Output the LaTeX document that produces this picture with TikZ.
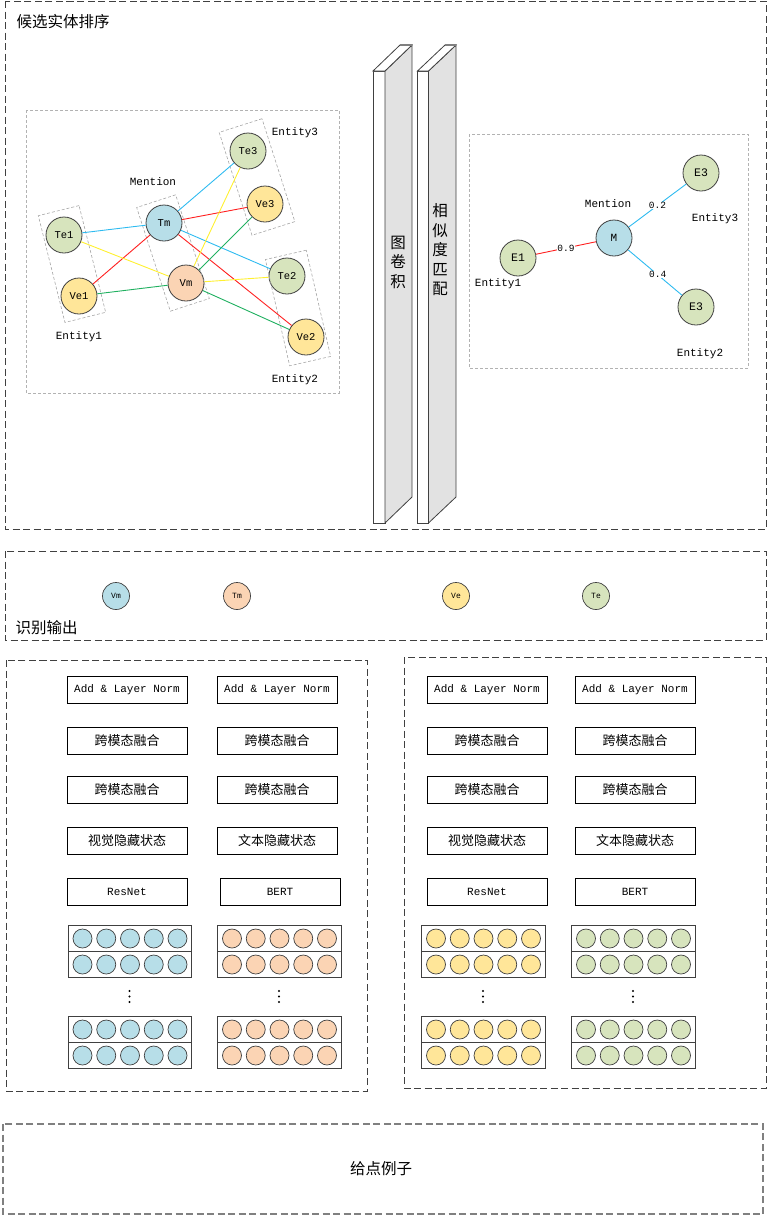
\documentclass[tikz,border=0pt]{standalone}
\usepackage{fontspec}
\setmainfont{Liberation Serif}
\setmonofont{Liberation Mono}
\newfontfamily\cjk{Noto Sans CJK SC}
\usetikzlibrary{calc}
\definecolor{cblue}{HTML}{B7DEE8}
\definecolor{cpeach}{HTML}{FBD4B4}
\definecolor{cyellow}{HTML}{FFE699}
\definecolor{cgreen}{HTML}{D7E4BD}
\definecolor{lblue}{HTML}{2EBBF0}
\definecolor{lred}{HTML}{FF2020}
\definecolor{lyellow}{HTML}{FFF030}
\definecolor{lgreen}{HTML}{20B060}
\definecolor{framegray}{HTML}{404040}
\definecolor{barside}{HTML}{E2E2E2}

\begin{document}
\begin{tikzpicture}[x=1pt, y=-1pt,
  every node/.style={font=\fontsize{11}{13}\selectfont\ttfamily},
  ent/.style={circle, draw=framegray, line width=0.8pt, minimum size=36pt, inner sep=0pt,
    font=\fontsize{10.5}{12}\selectfont\ttfamily},
  outdot/.style={circle, draw=framegray, line width=0.7pt, minimum size=27pt, inner sep=0pt,
    font=\fontsize{8}{9}\selectfont\ttfamily},
  cell/.style={circle, draw=framegray, line width=0.7pt, minimum size=19pt, inner sep=0pt},
  grp/.style={draw=gray!70, dash pattern=on 3pt off 2pt, line width=0.6pt, inner sep=0pt},
  frame/.style={draw=gray!60, dash pattern=on 3pt off 2pt, line width=0.6pt},
  section/.style={draw=framegray, dash pattern=on 7pt off 3.5pt, line width=0.9pt},
  ln/.style={line width=0.9pt},
  wlab/.style={fill=white, text=black, inner sep=0.5pt, font=\fontsize{9.5}{11}\selectfont\ttfamily},
  layer/.style={draw, line width=0.8pt, minimum width=120pt, minimum height=27pt, inner sep=0pt},
  cjklayer/.style={layer, font=\fontsize{13}{15}\selectfont\cjk},
  bar/.style={draw=framegray, line width=0.8pt},
  bartext/.style={align=center, font=\fontsize{15.5}{19.5}\selectfont\cjk},
  title/.style={font=\fontsize{15.5}{18}\selectfont\cjk},
  blk/.style={draw=framegray, line width=0.8pt}
]
\useasboundingbox (0,0) rectangle (767,1216);

% candidate ranking
\draw[section] (5,1) rectangle (766,529);
\node[title, anchor=west] (rank) at (13,22) {候选实体排序};

\draw[frame] (26,110) rectangle (339,393);
\node[ent, fill=cgreen] (te1) at (64,235) {Te1};
\node[ent, fill=cyellow] (ve1) at (79,296) {Ve1};
\node[ent, fill=cblue] (tm) at (164,223) {Tm};
\node[ent, fill=cpeach] (vm) at (186,283) {Vm};
\node[ent, fill=cgreen] (te3) at (248,151) {Te3};
\node[ent, fill=cyellow] (ve3) at (265,204) {Ve3};
\node[ent, fill=cgreen] (te2) at (287,276) {Te2};
\node[ent, fill=cyellow] (ve2) at (306,337) {Ve2};

\node[grp, rotate=14, minimum width=42pt, minimum height=110pt] (grp1) at (72,264) {};
\node[grp, rotate=18, minimum width=41pt, minimum height=109pt] (grpm) at (173,253) {};
\node[grp, rotate=17.7, minimum width=45pt, minimum height=108pt] (grp3) at (257,177) {};
\node[grp, rotate=12.9, minimum width=42pt, minimum height=109pt] (grp2) at (298,308) {};

\node (ent1) at (79,337) {Entity1};
\node (ment) at (153,182) {Mention};
\node (ent3) at (295,133) {Entity3};
\node (ent2) at (295,380) {Entity2};

\foreach \i in {1,2,3}{
  \draw[ln, lblue] (tm) -- (te\i);
  \draw[ln, lred] (tm) -- (ve\i);
  \draw[ln, lyellow] (vm) -- (te\i);
  \draw[ln, lgreen] (vm) -- (ve\i);
}

% bars
\draw[bar, fill=white] (373,71) rectangle (385,523);
\draw[bar, fill=barside] (385,71) -- (412,45) -- (412,497) -- (385,523) -- cycle;
\draw[bar, fill=white] (373,71) -- (400,45) -- (412,45) -- (385,71) -- cycle;
\draw[draw=gray, line width=1.4pt] (400,45) -- (412,45);
\node[bartext] (gcn) at (398,262) {图\\卷\\积};

\draw[bar, fill=white] (417.5,71) rectangle (428.5,523);
\draw[bar, fill=barside] (428.5,71) -- (456,45) -- (456,497) -- (428.5,523) -- cycle;
\draw[bar, fill=white] (417.5,71) -- (445,45) -- (456,45) -- (428.5,71) -- cycle;
\draw[draw=gray, line width=1.4pt] (445,45) -- (456,45);
\node[bartext] (simm) at (440,250) {相\\似\\度\\匹\\配};

\draw[frame] (469,134) rectangle (748,368);
\node[ent, fill=cblue, font=\fontsize{11}{13}\selectfont\ttfamily] (m) at (614,238) {M};
\node[ent, fill=cgreen, font=\fontsize{11.5}{13}\selectfont\ttfamily] (e1) at (518,258) {E1};
\node[ent, fill=cgreen, font=\fontsize{11.5}{13}\selectfont\ttfamily] (e3a) at (701,173) {E3};
\node[ent, fill=cgreen, font=\fontsize{11.5}{13}\selectfont\ttfamily] (e3b) at (696,307) {E3};
\draw[ln, lred] (e1) -- node[wlab] {0.9} (m);
\draw[ln, lblue] (m) -- node[wlab] {0.2} (e3a);
\draw[ln, lblue] (m) -- node[wlab, pos=0.55] {0.4} (e3b);
\node (rment) at (608,204) {Mention};
\node (rent1) at (498,284) {Entity1};
\node (rent3) at (715,219) {Entity3};
\node (rent2) at (700,354) {Entity2};

% recognition output
\draw[section] (5,551) rectangle (766,640);
\node[outdot, fill=cblue] (ovm) at (116,596) {Vm};
\node[outdot, fill=cpeach] (otm) at (237,596) {Tm};
\node[outdot, fill=cyellow] (ove) at (456,596) {Ve};
\node[outdot, fill=cgreen] (ote) at (596,596) {Te};
\node[title, anchor=west] (recog) at (12,628) {识别输出};

% encoders
\draw[section] (6,660) rectangle (367,1091);
\draw[section] (404,657) rectangle (766,1088);

\node[layer] (lnv) at (127,690) {Add \& Layer Norm};
\node[layer] (lnt) at (277,690) {Add \& Layer Norm};
\node[cjklayer] (fv1) at (127,741) {跨模态融合};
\node[cjklayer] (ft1) at (277,741) {跨模态融合};
\node[cjklayer] (fv2) at (127,790) {跨模态融合};
\node[cjklayer] (ft2) at (277,790) {跨模态融合};
\node[cjklayer] (hv) at (127,841) {视觉隐藏状态};
\node[cjklayer] (ht) at (277,841) {文本隐藏状态};
\node[layer] (resv) at (127,892) {ResNet};
\node[layer] (bertt) at (280,892) {BERT};

\node[layer] (lnve) at (487,690) {Add \& Layer Norm};
\node[layer] (lnte) at (635,690) {Add \& Layer Norm};
\node[cjklayer] (fve1) at (487,741) {跨模态融合};
\node[cjklayer] (fte1) at (635,741) {跨模态融合};
\node[cjklayer] (fve2) at (487,790) {跨模态融合};
\node[cjklayer] (fte2) at (635,790) {跨模态融合};
\node[cjklayer] (hve) at (487,841) {视觉隐藏状态};
\node[cjklayer] (hte) at (635,841) {文本隐藏状态};
\node[layer] (resve) at (487,892) {ResNet};
\node[layer] (bertte) at (635,892) {BERT};

\foreach \bx/\cl/\nm in {68/cblue/vis, 217.5/cpeach/txt, 421.5/cyellow/cve, 571.5/cgreen/cte}{
  \foreach \by/\k in {925.5/a, 1016.5/b}{
    \draw[blk] (\bx,\by) rectangle ++(123.5,52);
    \draw[blk] (\bx,\by+26) -- ++(123.5,0);
    \foreach \r in {0,1}{
      \foreach \c in {0,...,4}{
        \node[cell, fill=\cl] (\nm-\k-\r-\c) at (\bx+14.5+23.75*\c, \by+13+26*\r) {};
      }
    }
  }
  \foreach \d in {0,1,2}{
    \fill (\bx+61.5, 991+5.5*\d) circle (1.1pt);
  }
}

% example
\draw[draw=gray, dash pattern=on 7pt off 3.5pt, line width=1.3pt] (3,1124) rectangle (763,1214);
\node[title] (expl) at (381,1169) {给点例子};
\end{tikzpicture}
\end{document}
